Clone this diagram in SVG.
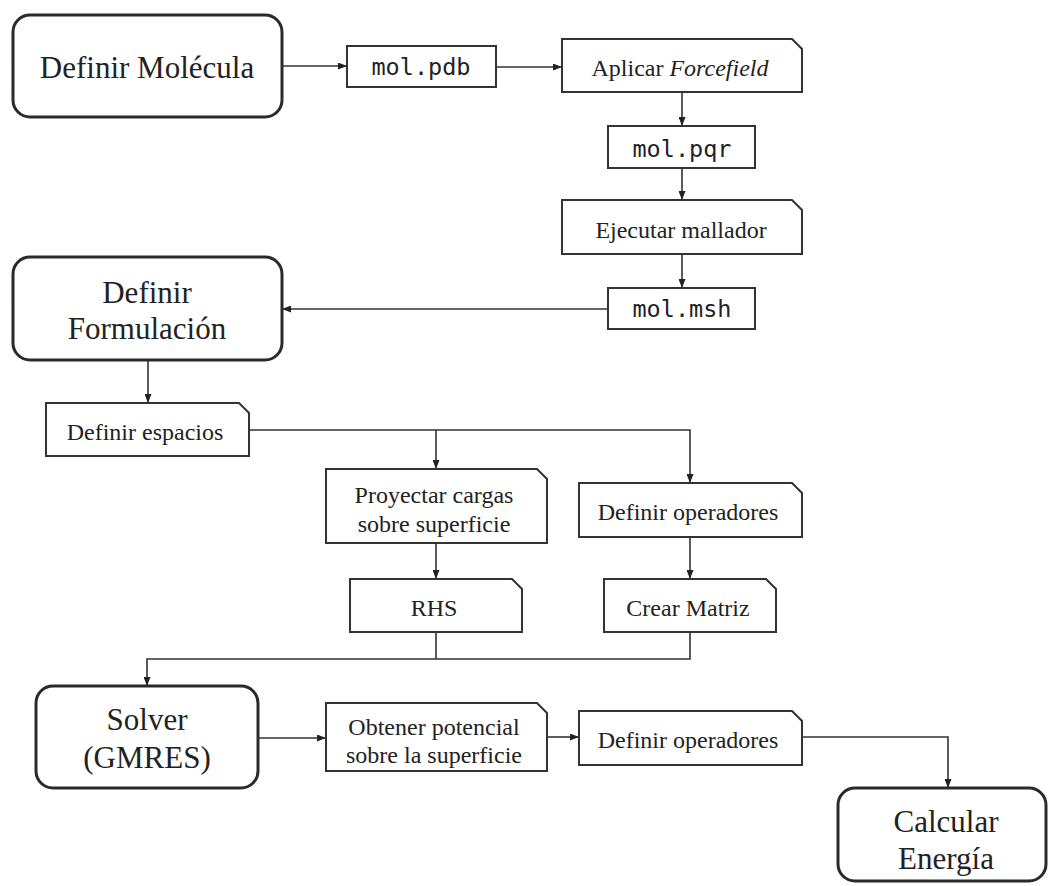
<svg xmlns="http://www.w3.org/2000/svg" width="1049" height="886" viewBox="0 0 1049 886">
<defs>
<style>
.big{font-family:"Liberation Serif","Times New Roman",serif;font-size:31px;fill:#222;text-anchor:middle}
.med{font-family:"Liberation Serif","Times New Roman",serif;font-size:24px;fill:#222;text-anchor:middle}
.mono{font-family:"DejaVu Sans Mono","Liberation Mono",monospace;font-size:23.5px;fill:#222;text-anchor:middle}
.rnd{fill:#fff;stroke:#2a2a2a;stroke-width:3}
.box{fill:#fff;stroke:#333;stroke-width:2}
.conn{fill:none;stroke:#333;stroke-width:1.6}
</style>
<marker id="ah" markerWidth="9" markerHeight="7" refX="8" refY="3.5" orient="auto" markerUnits="userSpaceOnUse">
<path d="M0,0 L9,3.5 L0,7 z" fill="#222"/>
</marker>
</defs>
<rect width="1049" height="886" fill="#fff"/>

<g id="connectors">
<path class="conn" d="M282,66 H346" marker-end="url(#ah)"/>
<path class="conn" d="M496,67 H561" marker-end="url(#ah)"/>
<path class="conn" d="M682,92 V125" marker-end="url(#ah)"/>
<path class="conn" d="M682,168 V199" marker-end="url(#ah)"/>
<path class="conn" d="M682,254 V287" marker-end="url(#ah)"/>
<path class="conn" d="M608,309 H283" marker-end="url(#ah)"/>
<path class="conn" d="M148,360 V402" marker-end="url(#ah)"/>
<path class="conn" d="M249,430 H690 V482" marker-end="url(#ah)"/>
<path class="conn" d="M436,430 V468" marker-end="url(#ah)"/>
<path class="conn" d="M436,543 V578" marker-end="url(#ah)"/>
<path class="conn" d="M690,537 V578" marker-end="url(#ah)"/>
<path class="conn" d="M436,632 V659"/>
<path class="conn" d="M690,632 V659 H147 V685" marker-end="url(#ah)"/>
<path class="conn" d="M258,738 H325" marker-end="url(#ah)"/>
<path class="conn" d="M547,737 H578" marker-end="url(#ah)"/>
<path class="conn" d="M802,737 H948 V787" marker-end="url(#ah)"/>
</g>

<g id="definir-molecula">
<rect class="rnd" x="13" y="15" width="269" height="102" rx="17"/>
<text class="big" x="147" y="78">Definir Molécula</text>
</g>

<g id="mol-pdb">
<rect class="box" x="347" y="46" width="149" height="41"/>
<text class="mono" x="421" y="75">mol.pdb</text>
</g>

<g id="aplicar-forcefield">
<path class="box" d="M562,39 H792 L802,49 V92 H562 Z"/>
<text class="med" x="680" y="76">Aplicar <tspan font-style="italic">Forcefield</tspan></text>
</g>

<g id="mol-pqr">
<rect class="box" x="608" y="126" width="147" height="42"/>
<text class="mono" x="682" y="157">mol.pqr</text>
</g>

<g id="ejecutar-mallador">
<path class="box" d="M562,200 H792 L802,210 V254 H562 Z"/>
<text class="med" x="681" y="238">Ejecutar mallador</text>
</g>

<g id="mol-msh">
<rect class="box" x="608" y="288" width="147" height="41"/>
<text class="mono" x="682" y="317">mol.msh</text>
</g>

<g id="definir-formulacion">
<rect class="rnd" x="13" y="257" width="269" height="103" rx="17"/>
<text class="big" x="147" y="303">Definir</text>
<text class="big" x="147" y="339">Formulación</text>
</g>

<g id="definir-espacios">
<path class="box" d="M46,403 H239 L249,413 V456 H46 Z"/>
<text class="med" x="145" y="440">Definir espacios</text>
</g>

<g id="proyectar-cargas">
<path class="box" d="M326,469 H537 L547,479 V543 H326 Z"/>
<text class="med" x="434" y="503">Proyectar cargas</text>
<text class="med" x="434" y="532">sobre superficie</text>
</g>

<g id="definir-operadores-1">
<path class="box" d="M579,483 H792 L802,493 V537 H579 Z"/>
<text class="med" x="688" y="520">Definir operadores</text>
</g>

<g id="rhs">
<path class="box" d="M350,579 H512 L522,589 V632 H350 Z"/>
<text class="med" x="434" y="616">RHS</text>
</g>

<g id="crear-matriz">
<path class="box" d="M604,579 H766 L776,589 V632 H604 Z"/>
<text class="med" x="688" y="616">Crear Matriz</text>
</g>

<g id="solver">
<rect class="rnd" x="36" y="686" width="222" height="102" rx="17"/>
<text class="big" x="147" y="730">Solver</text>
<text class="big" x="147" y="768">(GMRES)</text>
</g>

<g id="obtener-potencial">
<path class="box" d="M326,703 H537 L547,713 V771 H326 Z"/>
<text class="med" x="434" y="735">Obtener potencial</text>
<text class="med" x="434" y="763">sobre la superficie</text>
</g>

<g id="definir-operadores-2">
<path class="box" d="M579,711 H792 L802,721 V765 H579 Z"/>
<text class="med" x="688" y="748">Definir operadores</text>
</g>

<g id="calcular-energia">
<rect class="rnd" x="838" y="788" width="208" height="93" rx="17"/>
<text class="big" x="946" y="832">Calcular</text>
<text class="big" x="946" y="869">Energía</text>
</g>
</svg>
